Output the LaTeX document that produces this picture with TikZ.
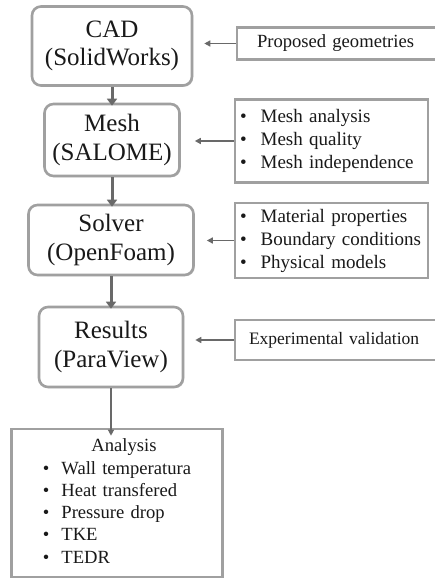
\documentclass[tikz,border=0pt]{standalone}
\usepackage{fontspec}
\setmainfont{Liberation Serif}
\usetikzlibrary{shadows,arrows.meta}
\definecolor{boxgray}{RGB}{160,160,160}
\definecolor{arrgray}{RGB}{105,105,105}
\definecolor{txt}{RGB}{25,25,25}
\newcommand{\bl}{\textbullet}
\begin{document}
\begin{tikzpicture}[x=1pt,y=-1pt,
  shadowed/.style={drop shadow={shadow xshift=1.2pt,shadow yshift=-1.2pt,opacity=0.18,fill=black}},
  stagebox/.style={draw=boxgray,line width=2.6pt,rounded corners=9pt,fill=white,shadowed,
    align=center,text=txt,font=\fontsize{25}{28.5}\selectfont,inner sep=0pt},
  infobox/.style={draw=boxgray,line width=2.6pt,fill=white,shadowed,text=txt,
    font=\fontsize{19}{23}\selectfont,inner ysep=0pt,align=left},
  bigarrow/.style={draw=arrgray,line width=3pt,-{Triangle[length=7pt,width=10pt]}},
  thinarrow/.style={draw=arrgray,line width=1.6pt,-{Triangle[length=6pt,width=6pt]}}
]
\useasboundingbox (0,0) rectangle (435,579);
% left column
\node[stagebox,minimum width=160pt,minimum height=79pt] (cad) at (112,46) {CAD\\(SolidWorks)};
\node[stagebox,minimum width=135pt,minimum height=72pt] (mesh) at (112,140) {Mesh\\(SALOME)};
\node[stagebox,minimum width=165pt,minimum height=70pt] (solver) at (111,240) {Solver\\(OpenFoam)};
\node[stagebox,minimum width=144pt,minimum height=80pt] (results) at (111,347) {Results\\(ParaView)};
\node[infobox,font=\fontsize{18.6}{22.3}\selectfont,inner xsep=0pt,text width=211pt,align=center,minimum height=148pt] (analysis) at (117,503)
  {\begin{tabular}{@{}l@{\hspace{12pt}}l@{}}
   \multicolumn{2}{c}{\hspace{14pt}Analysis}\\
   \bl & Wall temperatura\\
   \bl & Heat transfered\\
   \bl & Pressure drop\\
   \bl & TKE\\
   \bl & TEDR
   \end{tabular}};
% right column
\node[infobox,font=\fontsize{18.6}{22}\selectfont,inner xsep=20pt,text width=164pt,minimum height=32pt] (geo) at (339,43.5) {Proposed geometries};
\node[infobox,inner xsep=5pt,text width=183pt,minimum height=83pt] (meshinfo) at (331.5,141)
  {\begin{tabular}{@{}l@{\hspace{14pt}}l@{}}
   \bl & Mesh analysis\\
   \bl & Mesh quality\\
   \bl & Mesh independence
   \end{tabular}};
\node[infobox,inner xsep=5pt,text width=183pt,minimum height=75pt] (solverinfo) at (331.5,240.5)
  {\begin{tabular}{@{}l@{\hspace{14pt}}l@{}}
   \bl & Material properties\\
   \bl & Boundary conditions\\
   \bl & Physical models
   \end{tabular}};
\node[infobox,font=\fontsize{17.5}{21}\selectfont,inner xsep=14pt,text width=178pt,minimum height=40pt] (valid) at (338,340) {Experimental validation};
% flow arrows
\draw[bigarrow] (cad.south) -- ([yshift=-3pt]cad.south |- mesh.north);
\draw[bigarrow] (mesh.south) -- ([yshift=-3pt]mesh.south |- solver.north);
\draw[bigarrow] (solver.south) -- ([yshift=-3pt]solver.south |- results.north);
\draw[thinarrow,line width=1.2pt] (results.south) -- ([yshift=-8pt]results.south |- analysis.north);
% side arrows
\draw[thinarrow] (geo.west) -- ([xshift=11pt]cad.east |- geo.west);
\draw[thinarrow] (meshinfo.west) -- ([xshift=14pt]mesh.east |- meshinfo.west);
\draw[thinarrow] (solverinfo.west) -- ([xshift=12pt]solver.east |- solverinfo.west);
\draw[thinarrow] (valid.west) -- ([xshift=11pt]results.east |- valid.west);
\end{tikzpicture}
\end{document}
